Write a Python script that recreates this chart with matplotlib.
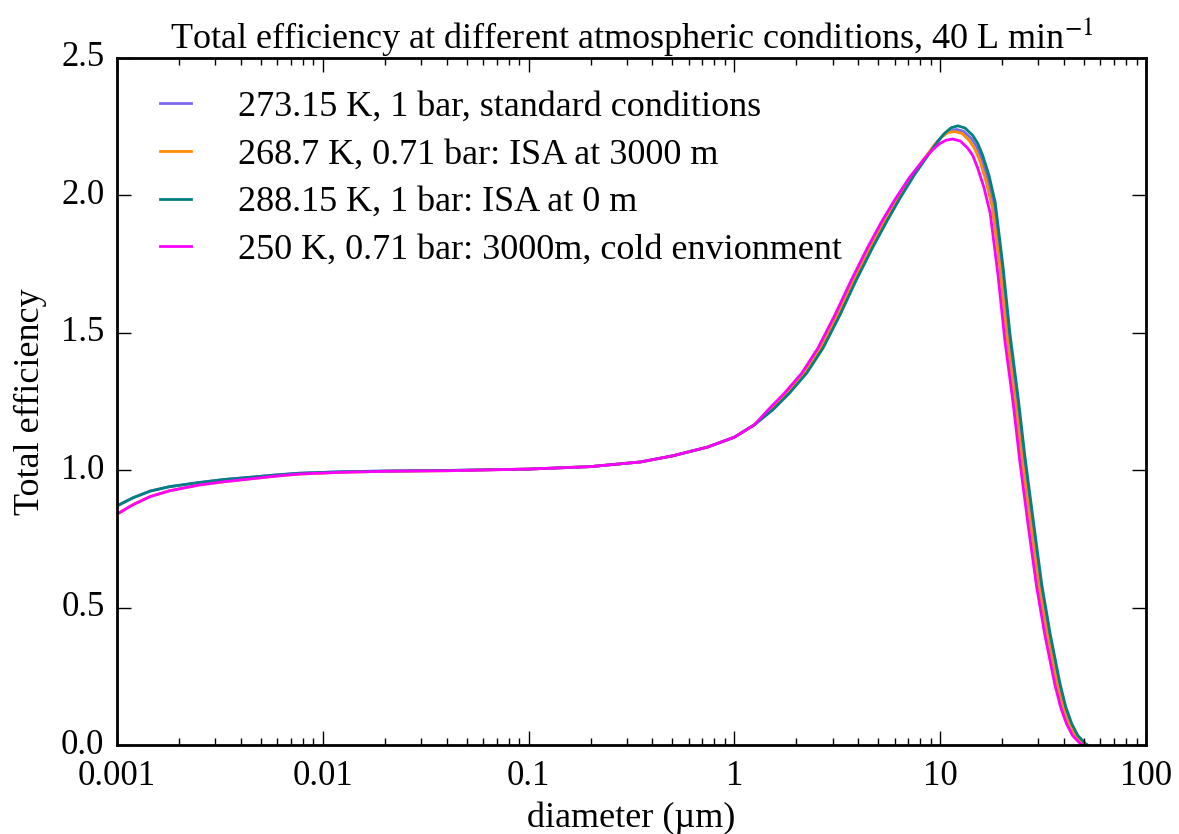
import matplotlib
matplotlib.use('Agg')
import matplotlib.pyplot as plt
from matplotlib import ticker

plt.style.use('classic')
plt.rcParams['font.family'] = 'serif'
plt.rcParams['font.serif'] = ['Liberation Serif', 'DejaVu Serif']
plt.rcParams['mathtext.fontset'] = 'stix'

# values (diameter in um, total efficiency)
# small-diameter part, shared x positions
d_low = [0.001, 0.0012, 0.00145, 0.0018, 0.0025, 0.0033, 0.0044, 0.006, 0.0077,
         0.012, 0.02, 0.04, 0.1, 0.2, 0.35, 0.5, 0.74, 1.0, 1.25]
eff_low_1bar = [0.870, 0.900, 0.924, 0.940, 0.955, 0.966, 0.974, 0.983, 0.989,
                0.994, 0.997, 0.999, 1.004, 1.013, 1.03, 1.052, 1.084, 1.12, 1.165]
eff_low_071bar = [0.840, 0.875, 0.904, 0.925, 0.946, 0.958, 0.968, 0.979, 0.986,
                  0.992, 0.996, 0.998, 1.004, 1.013, 1.03, 1.052, 1.084, 1.12, 1.165]

# large-diameter part, per condition
d_hi_288 = [1.54, 1.85, 2.25, 2.7, 3.26, 3.9, 4.71, 5.5, 6.38, 7.5,
            8.9, 9.7, 10.5, 11.3, 12.2, 13.2, 14.4, 15.2, 16.1, 17.3,
            18.5, 20.2, 21.8, 24.0, 25.8, 28.3, 31.1, 34.2, 38.2, 40.7,
            43.5, 46.6, 50.6, 52.0]
eff_hi_288 = [1.22, 1.28, 1.354, 1.445, 1.565, 1.69, 1.812, 1.905, 1.99, 2.075,
              2.155, 2.195, 2.226, 2.246, 2.253, 2.245, 2.218, 2.19, 2.145, 2.07,
              1.975, 1.74, 1.50, 1.255, 1.05, 0.82, 0.588, 0.406, 0.224, 0.14,
              0.079, 0.035, 0.006, 0.0]

d_hi_273 = [1.52, 1.82, 2.22, 2.66, 3.21, 3.84, 4.64, 5.42, 6.28, 7.39,
            8.77, 9.55, 10.3, 11.1, 12.0, 13.0, 14.2, 15.0, 15.9, 17.0,
            18.2, 19.9, 21.5, 23.6, 25.4, 27.9, 30.6, 33.7, 37.6, 40.1,
            42.8, 45.9, 49.8, 51.2]
eff_hi_273 = [1.22, 1.28, 1.354, 1.445, 1.565, 1.69, 1.812, 1.905, 1.989, 2.073,
              2.15, 2.189, 2.218, 2.234, 2.24, 2.233, 2.206, 2.178, 2.134, 2.06,
              1.965, 1.73, 1.492, 1.248, 1.045, 0.815, 0.585, 0.404, 0.223, 0.139,
              0.079, 0.035, 0.006, 0.0]

d_hi_268 = [1.49, 1.79, 2.18, 2.61, 3.16, 3.78, 4.56, 5.32, 6.18, 7.26,
            8.62, 9.39, 10.2, 10.9, 11.8, 12.8, 13.9, 14.7, 15.6, 16.7,
            17.9, 19.6, 21.1, 23.2, 25.0, 27.4, 30.1, 33.1, 37.0, 39.4,
            42.1, 45.1, 49.0, 50.3]
eff_hi_268 = [1.22, 1.28, 1.354, 1.445, 1.565, 1.69, 1.812, 1.905, 1.988, 2.071,
              2.147, 2.185, 2.213, 2.229, 2.232, 2.225, 2.198, 2.17, 2.126, 2.052,
              1.958, 1.725, 1.488, 1.245, 1.04, 0.812, 0.582, 0.402, 0.222, 0.139,
              0.078, 0.035, 0.006, 0.0]

d_hi_250 = [1.46, 1.75, 2.13, 2.55, 3.08, 3.69, 4.45, 5.2, 6.03, 7.09,
            8.41, 9.17, 9.92, 10.7, 11.5, 12.5, 13.6, 14.4, 15.2, 16.3,
            17.5, 19.1, 20.6, 22.7, 24.4, 26.7, 29.4, 32.3, 36.1, 38.5,
            41.1, 44.0, 47.8, 49.1]
eff_hi_250 = [1.22, 1.28, 1.354, 1.445, 1.565, 1.69, 1.812, 1.905, 1.985, 2.065,
              2.135, 2.165, 2.188, 2.201, 2.205, 2.198, 2.172, 2.145, 2.1, 2.03,
              1.935, 1.71, 1.475, 1.235, 1.03, 0.805, 0.577, 0.398, 0.219, 0.137,
              0.077, 0.034, 0.006, 0.0]

labels = ['273.15 K, 1 bar, standard conditions',
          '268.7 K, 0.71 bar: ISA at 3000 m',
          '288.15 K, 1 bar: ISA at 0 m',
          '250 K, 0.71 bar: 3000m, cold envionment']
colors = ['mediumslateblue', 'darkorange', 'teal', 'magenta']

series = [(d_low + d_hi_273, eff_low_1bar + eff_hi_273),
          (d_low + d_hi_268, eff_low_071bar + eff_hi_268),
          (d_low + d_hi_288, eff_low_1bar + eff_hi_288),
          (d_low + d_hi_250, eff_low_071bar + eff_hi_250)]

fs = 26

fig = plt.figure(figsize=(11.79, 8.34), dpi=100, facecolor='white')
ax = fig.add_axes([0.0992, 0.1067, 0.8728, 0.8238])

for (d, e), lab, c in zip(series, labels, colors):
    ax.plot(d, e, color=c, lw=2.0, label=lab)

ax.set_xscale('log')
ax.set_xlim(0.001, 100)
ax.set_ylim(0, 2.5)
ax.xaxis.set_major_formatter(ticker.FuncFormatter(lambda v, p: '%g' % v))
ax.yaxis.set_major_locator(ticker.MultipleLocator(0.5))
ax.yaxis.set_major_formatter(ticker.FormatStrFormatter('%.1f'))

ax.tick_params(axis='both', which='major', direction='in', length=10, width=1,
               labelsize=25, top=True, right=True)
ax.tick_params(axis='x', which='major', pad=11)
ax.tick_params(axis='y', which='major', pad=9)
ax.tick_params(axis='both', which='minor', direction='in', length=5, width=1,
               top=True, right=True)
for s in ax.spines.values():
    s.set_linewidth(2)

ax.set_xlabel('diameter (µm)', fontsize=fs, labelpad=6)
ax.set_ylabel('Total efficiency', fontsize=fs, labelpad=10)
ax.set_title(r'Total efficiency at different atmospheric conditions, 40 L min$^{-1}$',
             fontsize=fs, y=1.005)

ax.legend(loc='upper left', frameon=False, fontsize=fs, handlelength=1.45,
          handletextpad=1.0, labelspacing=0.4, borderaxespad=0.5)

plt.savefig('out.png', dpi=100, facecolor='white')
